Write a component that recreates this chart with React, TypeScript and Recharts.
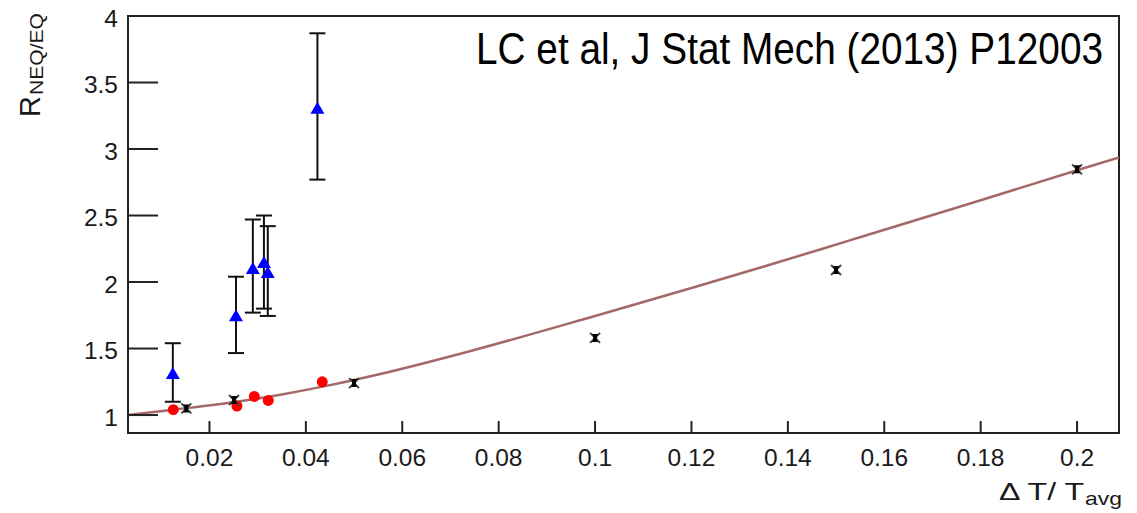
import React from 'react';
import { ComposedChart, Scatter, Line, XAxis, YAxis, ErrorBar, ReferenceArea } from 'recharts';

// ---- axes ----
const xTicks = [0.02, 0.04, 0.06, 0.08, 0.1, 0.12, 0.14, 0.16, 0.18, 0.2];
const yTicks = [1, 1.5, 2, 2.5, 3, 3.5, 4];
const xDomain: [number, number] = [0.0031, 0.2087];
const yDomain: [number, number] = [0.865, 4];

// ---- blue triangles (with error bars) ----
const blueX = [0.0124, 0.0255, 0.029, 0.0313, 0.0321, 0.0424];
const blueY = [1.316, 1.75, 2.105, 2.15, 2.075, 3.31];
const blueLow = [1.1, 1.466, 1.77, 1.8, 1.745, 2.77];
const blueHigh = [1.54, 2.04, 2.47, 2.5, 2.42, 3.87];

// ---- red circles ----
const redX = [0.0125, 0.0257, 0.0293, 0.0322, 0.0434];
const redY = [1.04, 1.068, 1.14, 1.11, 1.25];

// ---- black stars ----
const blackX = [0.0152, 0.0251, 0.05, 0.1, 0.15, 0.2];
const blackY = [1.05, 1.113, 1.24, 1.58, 2.09, 2.847];

// ---- fit curve ----
const fitX = [0.0031, 0.0125, 0.0257, 0.035, 0.045, 0.055, 0.074, 0.1, 0.12, 0.134, 0.153, 0.167, 0.18, 0.2, 0.2087];
const fitY = [1.0, 1.04, 1.1, 1.155, 1.225, 1.305, 1.48, 1.745, 1.955, 2.105, 2.315, 2.47, 2.615, 2.84, 2.937];

const blueData = blueX.map((x, i) => ({
  x,
  y: blueY[i],
  err: [blueY[i] - blueLow[i], blueHigh[i] - blueY[i]],
}));
const redData = redX.map((x, i) => ({ x, y: redY[i] }));
const blackData = blackX.map((x, i) => ({ x, y: blackY[i] }));
const fitData = fitX.map((x, i) => ({ x, y: fitY[i] }));

const FONT = "'Liberation Sans', Arial, Helvetica, sans-serif";
const TEXT = '#1a1a1a';
const FRAME = '#222';

const Triangle = (props: any) => {
  const { cx, cy } = props;
  if (cx == null || cy == null) return null;
  const w = 14, h = 12;
  return (
    <polygon
      points={`${cx - w / 2},${cy + h / 2} ${cx + w / 2},${cy + h / 2} ${cx},${cy - h / 2}`}
      fill="#0000ff"
    />
  );
};

const Dot = (props: any) => {
  const { cx, cy } = props;
  if (cx == null || cy == null) return null;
  return <circle cx={cx} cy={cy} r={5.5} fill="#ff0000" />;
};

const Star = (props: any) => {
  const { cx, cy } = props;
  if (cx == null || cy == null) return null;
  const s = 5;
  return (
    <g>
      <line x1={cx - s} y1={cy - s} x2={cx + s} y2={cy + s} stroke="#444" strokeWidth={2} />
      <line x1={cx - s} y1={cy + s} x2={cx + s} y2={cy - s} stroke="#444" strokeWidth={2} />
      <polygon
        points={`${cx - 3.5},${cy - 4} ${cx + 3.5},${cy - 4} ${cx},${cy} ${cx + 3.5},${cy + 4} ${cx - 3.5},${cy + 4} ${cx},${cy}`}
        fill="#000"
      />
      <rect x={cx - 2} y={cy - 2} width={4} height={4} fill="#000" />
    </g>
  );
};

const XTick = (props: any) => {
  const { x, y, payload } = props;
  return (
    <text x={x} y={y + 17.5} textAnchor="middle" fontSize={24.5} fontFamily={FONT} fill={TEXT}>
      {String(payload.value)}
    </text>
  );
};

const YTick = (props: any) => {
  const { x, y, payload } = props;
  return (
    <text x={x} y={y + 10.5} textAnchor="end" fontSize={24.5} fontFamily={FONT} fill={TEXT}>
      {String(payload.value)}
    </text>
  );
};

export default function App() {
  const W = 1129;
  const H = 505;
  return (
    <div style={{ position: 'relative', width: W, height: H }}>
      <ComposedChart width={W} height={H} margin={{ top: 8, right: 18, bottom: 0, left: 0 }}>
        <XAxis
          type="number"
          dataKey="x"
          domain={xDomain}
          allowDataOverflow
          ticks={xTicks}
          interval={0}
          height={80}
          tickSize={-12}
          tickMargin={27}
          tick={<XTick />}
          axisLine={{ stroke: FRAME, strokeWidth: 2 }}
          tickLine={{ stroke: FRAME, strokeWidth: 2 }}
        />
        <YAxis
          type="number"
          dataKey="y"
          domain={yDomain}
          allowDataOverflow
          ticks={yTicks}
          interval={0}
          width={120}
          tickSize={-30}
          tickMargin={40}
          tick={<YTick />}
          axisLine={{ stroke: FRAME, strokeWidth: 2 }}
          tickLine={{ stroke: FRAME, strokeWidth: 2 }}
        />
        <ReferenceArea
          x1={xDomain[0]}
          x2={xDomain[1]}
          y1={yDomain[0]}
          y2={yDomain[1]}
          fill="none"
          fillOpacity={0}
          stroke={FRAME}
          strokeWidth={2}
          ifOverflow="visible"
        />
        <Line
          data={fitData}
          dataKey="y"
          type="monotone"
          dot={false}
          activeDot={false}
          stroke="#a46868"
          strokeWidth={2.5}
          isAnimationActive={false}
        />
        <Scatter data={redData} dataKey="y" shape={<Dot />} isAnimationActive={false} />
        <Scatter data={blackData} dataKey="y" shape={<Star />} isAnimationActive={false} />
        <Scatter data={blueData} dataKey="y" shape={<Triangle />} isAnimationActive={false}>
          <ErrorBar dataKey="err" direction="y" width={8} stroke="#111" strokeWidth={2} isAnimationActive={false} />
        </Scatter>
      </ComposedChart>
      <svg
        width={W}
        height={H}
        style={{ position: 'absolute', left: 0, top: 0, pointerEvents: 'none' }}
      >
        <text
          x={468}
          y={56}
          fontSize={44}
          fontFamily="'Liberation Sans Narrow', 'Arial Narrow', 'Liberation Sans', Arial, sans-serif"
          fill="#000"
          textLength={627}
          lengthAdjust="spacingAndGlyphs"
        >
          LC et al, J Stat Mech (2013) P12003
        </text>
        <text
          x={32}
          y={109}
          transform="rotate(-90 32 109)"
          fontSize={29}
          fontFamily={FONT}
          fill={TEXT}
        >
          R
        </text>
        <text
          x={35}
          y={87}
          transform="rotate(-90 35 87)"
          fontSize={18}
          fontFamily={FONT}
          fill={TEXT}
          textLength={82}
          lengthAdjust="spacingAndGlyphs"
        >
          NEQ/EQ
        </text>
        <text
          x={991}
          y={492}
          fontSize={23}
          fontFamily={FONT}
          fill={TEXT}
          textLength={85}
          lengthAdjust="spacingAndGlyphs"
        >
          Δ T/ T
        </text>
        <text
          x={1077}
          y={497}
          fontSize={19}
          fontFamily={FONT}
          fill={TEXT}
          textLength={37}
          lengthAdjust="spacingAndGlyphs"
        >
          avg
        </text>
      </svg>
    </div>
  );
}
